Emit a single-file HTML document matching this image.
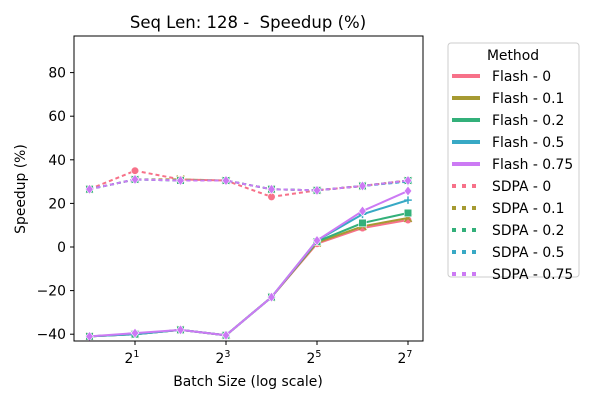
<!DOCTYPE html>
<html><head><meta charset="utf-8"><style>
body{margin:0;background:#fff;font-family:"DejaVu Sans","Liberation Sans",sans-serif}
</style></head><body>
<svg id="chart" width="600" height="400" xmlns="http://www.w3.org/2000/svg" font-family="DejaVu Sans, Liberation Sans, sans-serif">
<rect width="600" height="400" fill="#fff"/>
<text x="248" y="28" font-size="16.5" text-anchor="middle">Seq Len: 128 -&#160; Speedup (%)</text>
<text x="248" y="386" font-size="13.9" text-anchor="middle">Batch Size (log scale)</text>
<text transform="translate(25,189) rotate(-90)" font-size="13.9" text-anchor="middle">Speedup (%)</text>
<g id="ticks"></g>
<g id="marks"></g>
<rect x="74" y="36" width="349" height="305" fill="none" stroke="#000" stroke-width="1"/>
<g id="legend"></g>
</svg>
<script>
const batchExps=[0,1,2,3,4,5,6,7];
const yTicks=[-40,-20,0,20,40,60,80];
const xTickExps=[1,3,5,7];
const seriesNames=["Flash - 0","Flash - 0.1","Flash - 0.2","Flash - 0.5","Flash - 0.75","SDPA - 0","SDPA - 0.1","SDPA - 0.2","SDPA - 0.5","SDPA - 0.75"];
const flash0=[-41,-40,-38,-40.5,-23,1.5,8.7,12.4];
const flash01=[-41,-40,-38,-40.5,-23,2,9.5,13.3];
const flash02=[-41,-40,-38,-40.5,-23,2.5,11,15.6];
const flash05=[-41,-40,-38,-40.5,-23,3,15,21.5];
const flash075=[-41,-39.5,-38,-40.5,-23,3,16.5,25.7];
const sdpa0=[26.5,35,31,30.5,23,26,28,30.5];
const sdpa01=[26.5,31,31,30.5,26.5,26,28,30.5];
const sdpa02=[26.5,31,30.5,30.5,26.5,26,28,30.5];
const sdpa05=[26.5,31,30.5,30.5,26.5,26,28,30];
const sdpa075=[26.5,31,30.5,30.5,26.5,26,28,30.5];
const allSeries=[flash0,flash01,flash02,flash05,flash075,sdpa0,sdpa01,sdpa02,sdpa05,sdpa075];
const colors=["#f77189","#a69a32","#33b07a","#38a9c5","#cc7af4"];
const markers=["circle","x","square","plus","diamond"];
const NS="http://www.w3.org/2000/svg";
const xs=e=>89.5+e*45.5;
const ys=v=>247-v*2.18;
function mk(tag,attrs,parent){const el=document.createElementNS(NS,tag);for(const k in attrs)el.setAttribute(k,attrs[k]);parent.appendChild(el);return el;}
const tg=document.getElementById("ticks");
yTicks.forEach(v=>{const y=ys(v);
 const l=mk("line",{x1:70,x2:74,y1:y,y2:y,stroke:"#000"},tg);
 
 
 const t=mk("text",{x:66,y:y+5,"font-size":13.9,"text-anchor":"end"},tg);t.textContent=v<0?"\u2212"+(-v):v;
 
 });
xTickExps.forEach(e=>{const x=xs(e);
 const l=mk("line",{x1:x,x2:x,y1:341,y2:345,stroke:"#000"},tg);
 
 
 const t=mk("text",{x:x-3,y:363,"font-size":13.9,"text-anchor":"middle"},tg);t.textContent="2";
 
 
 const s=mk("tspan",{dy:-6,"font-size":9.5},t);s.textContent=e;});
function marker(g,type,x,y,c,sz){
 if(type==="circle")return mk("circle",{cx:x,cy:y,r:sz,fill:c,stroke:"#fff","stroke-width":0.6},g);
 if(type==="square")return mk("rect",{x:x-sz,y:y-sz,width:2*sz,height:2*sz,fill:c,stroke:"#fff","stroke-width":0.6},g);
 if(type==="diamond")return mk("path",{d:`M${x},${y-sz*1.3}L${x+sz},${y}L${x},${y+sz*1.3}L${x-sz},${y}Z`,fill:c,stroke:"#fff","stroke-width":0.6},g);
 if(type==="plus")return mk("path",{d:`M${x-sz},${y}H${x+sz}M${x},${y-sz}V${y+sz}`,stroke:c,"stroke-width":1.5},g);
 return mk("path",{d:`M${x-sz},${y-sz}L${x+sz},${y+sz}M${x-sz},${y+sz}L${x+sz},${y-sz}`,stroke:c,"stroke-width":1.5},g);
}
const mg=document.getElementById("marks");
allSeries.forEach((vals,i)=>{const c=colors[i%5];const dashed=i>=5;
 const g=mk("g",{},mg);
 
 
 const d=vals.map((v,j)=>(j?"L":"M")+xs(batchExps[j])+","+ys(v)).join("");
 const attrs={d:d,fill:"none",stroke:c,"stroke-width":2};
 if(dashed)attrs["stroke-dasharray"]="4,3";
 mk("path",attrs,g);
 vals.forEach((v,j)=>{const m=marker(g,markers[i%5],xs(batchExps[j]),ys(v),c,3.8);
  
  });
});
const lg=document.getElementById("legend");
const box=mk("rect",{x:448,y:43,width:131,height:234,rx:3,fill:"#fff",stroke:"#ccc"},lg);


const lt=mk("text",{x:513,y:60,"font-size":13.9,"text-anchor":"middle"},lg);lt.textContent="Method";


seriesNames.forEach((n,i)=>{const y=76+i*22;const c=colors[i%5];
 const g=mk("g",{},lg);
 
 
 const a={x1:452,x2:480,y1:y,y2:y,stroke:c,"stroke-width":4};
 if(i>=5)a["stroke-dasharray"]="4,6";
 mk("line",a,g);
 const t=mk("text",{x:492,y:y+5,"font-size":13.9},g);t.textContent=n;});
</script>
</body></html>
